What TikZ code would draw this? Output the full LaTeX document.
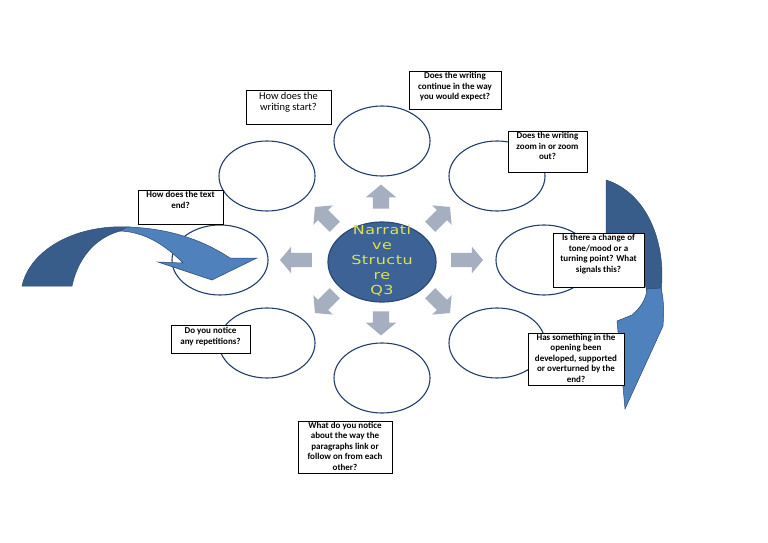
\documentclass[tikz,border=0pt]{standalone}
\usepackage{fontspec}
\setmainfont{Carlito}
\newfontfamily\ctrfont[FakeStretch=1.28,LetterSpace=4]{DejaVu Sans}
\usetikzlibrary{shapes.geometric,shapes.arrows}
\definecolor{navy}{RGB}{36,62,108}
\definecolor{ctrfill}{RGB}{60,98,150}
\definecolor{ctrline}{RGB}{42,72,118}
\definecolor{graya}{RGB}{166,175,192}
\definecolor{darkarr}{RGB}{56,93,138}
\definecolor{lightarr}{RGB}{79,129,189}
\definecolor{arrline}{RGB}{45,75,115}
\definecolor{ytext}{RGB}{222,228,70}
\newcommand{\qb}[4]{\parbox[c][#2][t]{#1}{\vspace*{#3}\centering #4\par}}
\tikzset{
  outer/.style={ellipse, draw=navy, line width=1.1pt, fill=white, minimum width=96pt, minimum height=70pt, inner sep=0pt},
  garr/.style={single arrow, fill=graya, draw=none, inner xsep=0pt, inner ysep=8pt, single arrow head extend=7pt, single arrow tip angle=100},
  qbox/.style={draw=black, line width=0.7pt, fill=white, inner sep=0pt, font=\fontsize{9}{10.5}\selectfont\bfseries},
  darkpart/.style={fill=darkarr, draw=arrline, line width=0.5pt},
  lightpart/.style={fill=lightarr, draw=arrline, line width=0.5pt}
}
\begin{document}
\begin{tikzpicture}[x=1pt,y=-1pt]
\useasboundingbox[fill=white] (0,0) rectangle (768,543);
% outer ellipses
\node[outer] (eT)  at (382,141) {};
\node[outer] (eTR) at (497,176) {};
\node[outer] (eR)  at (544,260) {};
\node[outer] (eBR) at (497,343) {};
\node[outer] (eB)  at (382,378) {};
\node[outer] (eBL) at (267,343) {};
\node[outer] (eL)  at (220,260) {};
\node[outer] (eTL) at (267,176) {};
% centre
\node[ellipse, fill=ctrfill, draw=ctrline, line width=1.2pt, minimum width=108pt, minimum height=80pt, inner sep=0pt,
  label={[text=ytext, font=\ctrfont\fontsize{12.5}{15}\selectfont, align=center, yshift=1pt]center:Narrati\\ve\\Structu\\re\\Q3}] (ctr) at (382,262) {};
% gray arrows
\node[garr, minimum height=24pt, rotate=90]  (aT)  at (381,200) {};
\node[garr, minimum height=24pt, rotate=270] (aB)  at (381,320) {};
\node[garr, minimum height=32pt, inner ysep=7pt, single arrow head extend=6pt, rotate=0]   (aR)  at (464,260) {};
\node[garr, minimum height=32pt, inner ysep=7pt, single arrow head extend=6pt, rotate=180] (aL)  at (299,260) {};
\node[garr, minimum height=28pt, inner ysep=7pt, single arrow head extend=6.5pt, rotate=45]  (aTR) at (438,219) {};
\node[garr, minimum height=28pt, inner ysep=7pt, single arrow head extend=6.5pt, rotate=135] (aTL) at (327,219) {};
\node[garr, minimum height=28pt, inner ysep=7pt, single arrow head extend=6.5pt, rotate=225] (aBL) at (327,301) {};
\node[garr, minimum height=28pt, inner ysep=7pt, single arrow head extend=6.5pt, rotate=315] (aBR) at (438,301) {};
% left curved arrow
\draw[darkpart] (22,286) .. controls (30,250) and (75,224) .. (130,227) -- (120,231) .. controls (95,238) and (78,258) .. (72,286) -- cycle;
\draw[lightpart] (127,227) .. controls (165,228) and (200,238) .. (230,258) -- (257,258) -- (212,280) -- (158,262) -- (183,263) .. controls (165,245) and (145,232) .. (120,231) -- cycle;
% right curved arrow
\draw[darkpart] (606,180) .. controls (645,192) and (667,240) .. (661,292) -- (647,292) .. controls (640,262) and (628,240) .. (606,234) -- cycle;
\draw[lightpart] (661,288) .. controls (664,300) and (664,312) .. (663,326) -- (625,409) -- (617,321) -- (632,315) .. controls (640,308) and (646,300) .. (647,289) -- cycle;
% question boxes
\node[qbox, font=\fontsize{10.5}{11.5}\selectfont] (q1) at (288.5,107) {\qb{85pt}{34pt}{2pt}{How does the\\writing start?}};
\node[qbox] (q2) at (455,90) {\qb{92pt}{38pt}{1.5pt}{Does the writing\\continue in the way\\you would expect?}};
\node[qbox] (q3) at (547.5,151.5) {\qb{79pt}{41pt}{1.5pt}{Does the writing\\zoom in or zoom\\out?}};
\node[qbox] (q4) at (180.5,207) {\qb{85pt}{34pt}{1.5pt}{How does the text\\end?}};
\node[qbox] (q5) at (598.5,260) {\qb{91pt}{54pt}{1.5pt}{Is there a change of\\tone/mood or a\\turning point? What\\signals this?}};
\node[qbox] (q6) at (576,359) {\qb{96pt}{52pt}{1pt}{Has something in the\\opening been\\developed, supported\\or overturned by the\\end?}};
\node[qbox] (q7) at (210.5,339) {\qb{79pt}{28pt}{2.5pt}{Do you notice\\any repetitions?}};
\node[qbox] (q8) at (345,447) {\qb{94pt}{52pt}{1pt}{What do you notice\\about the way the\\paragraphs link or\\follow on from each\\other?}};
\end{tikzpicture}
\end{document}
